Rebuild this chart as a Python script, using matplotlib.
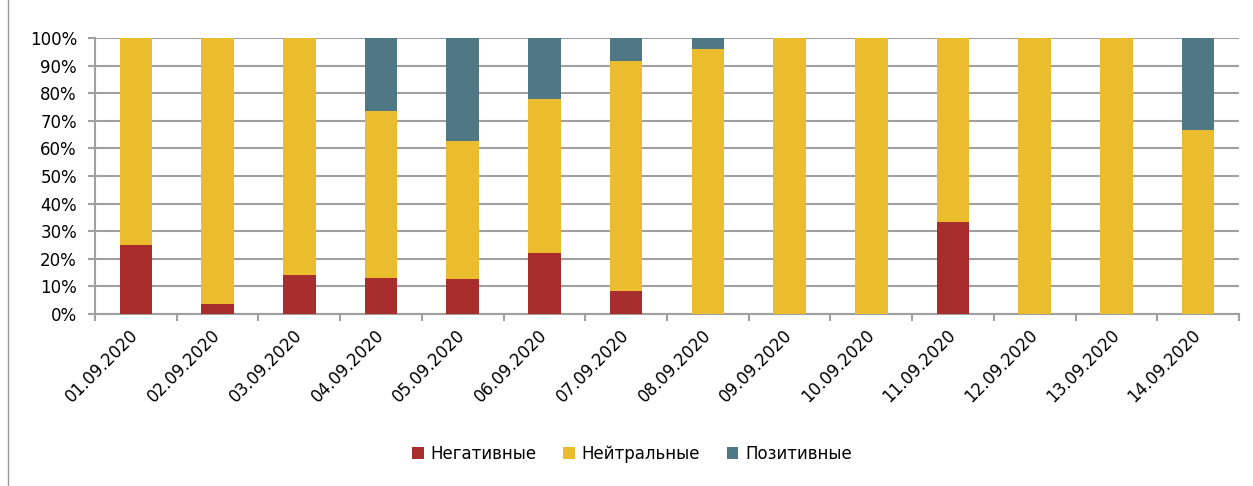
import matplotlib.pyplot as plt
import numpy as np

dates = ['01.09.2020', '02.09.2020', '03.09.2020', '04.09.2020', '05.09.2020',
         '06.09.2020', '07.09.2020', '08.09.2020', '09.09.2020', '10.09.2020',
         '11.09.2020', '12.09.2020', '13.09.2020', '14.09.2020']
negative = [25.0, 3.7, 14.3, 13.1, 12.5, 22.2, 8.3, 0, 0, 0, 33.3, 0, 0, 0]
neutral = [75.0, 96.3, 85.7, 60.5, 50.0, 55.6, 83.4, 96.0, 100, 100, 66.7, 100, 100, 66.7]
positive = [0, 0, 0, 26.4, 37.5, 22.2, 8.3, 4.0, 0, 0, 0, 0, 0, 33.3]

c_neg = '#A82E2E'
c_neu = '#EBBC2E'
c_pos = '#4F7784'
grid_col = '#a0a0a0'

plt.rcParams['font.family'] = ['DejaVu Sans']

fig = plt.figure(figsize=(12.53, 4.86), dpi=100)
ax = fig.add_axes([95 / 1253, 1 - 314 / 486, (1239 - 95) / 1253, (314 - 38) / 486])

x = np.arange(len(dates))
neg = np.array(negative)
neu = np.array(neutral)
pos = np.array(positive)
w = 0.40
ax.bar(x, neg, w, color=c_neg, label='Негативные', zorder=3)
ax.bar(x, neu, w, bottom=neg, color=c_neu, label='Нейтральные', zorder=3)
ax.bar(x, pos, w, bottom=neg + neu, color=c_pos, label='Позитивные', zorder=3)

ax.set_xlim(-0.5, len(dates) - 0.5)
ax.set_ylim(0, 100)
ax.set_yticks(np.arange(0, 101, 10))
ax.set_yticklabels([f'{v}%' for v in range(0, 101, 10)], fontsize=12)
ax.yaxis.grid(True, color=grid_col, linewidth=1.5, zorder=0)

ax.set_xticks(np.arange(-0.5, len(dates), 1))
ax.set_xticklabels([])
ax.set_xticks(x, minor=True)
ax.set_xticklabels(dates, minor=True, rotation=45, ha='right', va='center',
                   rotation_mode='anchor', fontsize=12)
ax.tick_params(axis='x', which='minor', length=0, pad=13)
ax.tick_params(axis='x', which='major', length=5, color=grid_col, width=1.5)
ax.tick_params(axis='y', length=5, color=grid_col, width=1.5, pad=8)

for s in ['top', 'right']:
    ax.spines[s].set_visible(False)
for s in ['left', 'bottom']:
    ax.spines[s].set_color(grid_col)
    ax.spines[s].set_linewidth(1.5)

fig.legend(loc='center', bbox_to_anchor=(632 / 1253, 1 - 454 / 486), ncol=3,
           frameon=False, fontsize=12, handlelength=0.7, handleheight=0.7,
           handletextpad=0.4, columnspacing=1.6)

fig.add_artist(plt.Line2D([8 / 1253, 8 / 1253], [0, 1], color='#9a9a9a', linewidth=1))

fig.savefig('out.png', dpi=100)
